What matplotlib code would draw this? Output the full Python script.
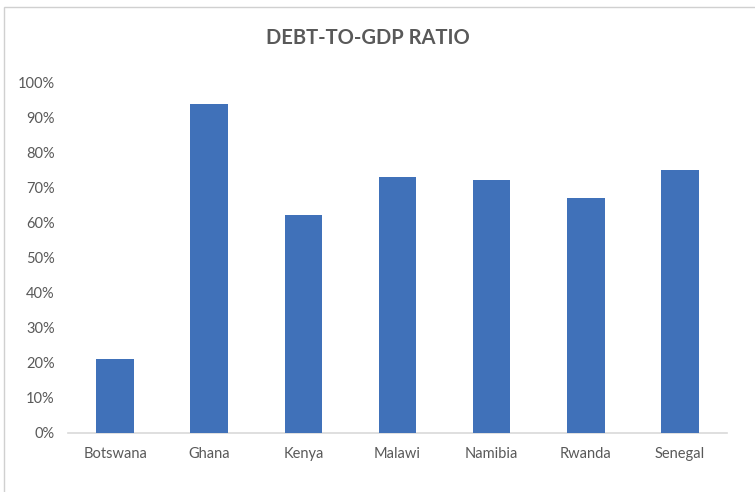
import matplotlib.pyplot as plt
from matplotlib.patches import Rectangle
from matplotlib.ticker import PercentFormatter

countries = ["Botswana", "Ghana", "Kenya", "Malawi", "Namibia", "Rwanda", "Senegal"]
debt_ratio = [0.21, 0.938, 0.622, 0.732, 0.722, 0.67, 0.751]
y_ticks = [0.0, 0.1, 0.2, 0.3, 0.4, 0.5, 0.6, 0.7, 0.8, 0.9, 1.0]

plt.rcParams["font.family"] = ["Lato", "DejaVu Sans"]
text_grey = "#595959"

fig = plt.figure(figsize=(7.55, 4.92), dpi=100)
ax = fig.add_axes([68 / 755, 59 / 492, 659 / 755, 350.3 / 492])

ax.bar(range(len(countries)), debt_ratio, width=0.4, color="#4071B9", zorder=3)

ax.set_xlim(-0.5, len(countries) - 0.5)
ax.set_ylim(0, 1)
ax.set_yticks(y_ticks)
ax.yaxis.set_major_formatter(PercentFormatter(1.0, decimals=0))
ax.set_xticks(range(len(countries)))
ax.set_xticklabels(countries)
ax.tick_params(axis="both", length=0, labelsize=10.5, colors=text_grey)
ax.tick_params(axis="y", pad=9.5)
ax.tick_params(axis="x", pad=10)

for side in ("top", "right", "left"):
    ax.spines[side].set_visible(False)
ax.spines["bottom"].set_color("#D9D9D9")
ax.spines["bottom"].set_linewidth(1.2)

fig.text(368 / 755, 1 - 38 / 492, "DEBT-TO-GDP RATIO", ha="center", va="center",
         fontsize=14.5, fontweight="bold", color=text_grey)

# chart frame, cropped on the right and bottom edges
fig.patches.append(Rectangle((4 / 755, -0.05), 1.1, 1.05 - 7 / 492, transform=fig.transFigure,
                             fill=False, edgecolor="#D0D0D0", linewidth=1.0))

fig.savefig("out.png", dpi=100)
